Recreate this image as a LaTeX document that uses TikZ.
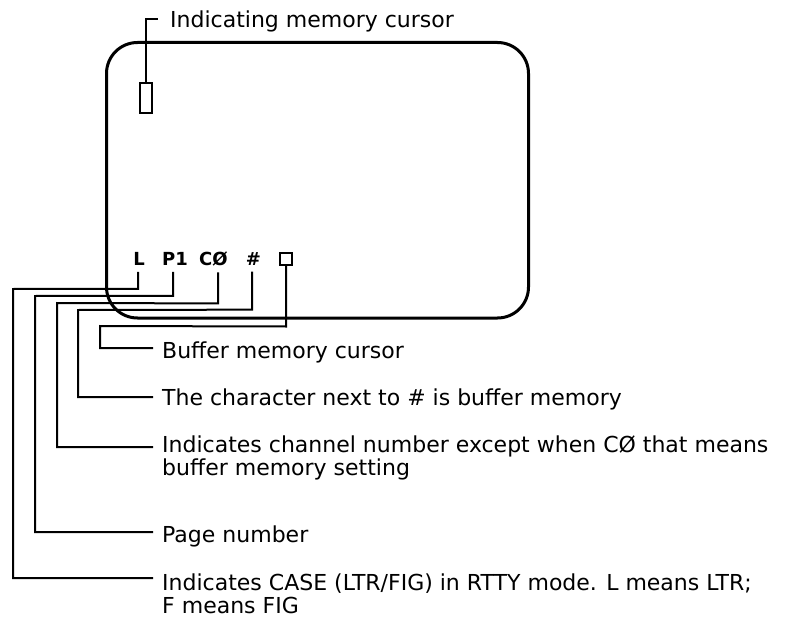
\documentclass[tikz,border=0pt]{standalone}
\usepackage{fontspec}
\setmainfont{DejaVu Sans}
\begin{document}
\begin{tikzpicture}[x=1pt,y=-1pt,
  lbl/.style={anchor=base west, inner sep=0pt, font=\fontsize{22}{23}\selectfont, align=left},
  disp/.style={inner sep=0pt, font=\fontsize{18}{18}\selectfont\bfseries},
  leader/.style={line width=2pt},
  frame/.style={line width=3pt, rounded corners=31pt},
]
\useasboundingbox (0,0) rectangle (804,618);
% display frame
\draw[frame] (106.5,42.5) rectangle (528.5,318);
% memory cursor
\node[draw, line width=2pt, minimum width=12pt, minimum height=30pt, inner sep=0pt] (mc) at (145.5,98) {};
\node[lbl] (tI) at (170,28) {Indicating memory cursor};
\coordinate (cI) at (158,19);
\draw[leader] (mc.north) |- (cI);
% display characters
\node[disp] (dL) at (139,259) {L};
\node[disp] (dP) at (175,259) {P1};
\node[disp] (dC) at (213.5,259) {CØ};
\node[disp] (dH) at (253.5,259) {\#};
\node[draw, line width=2pt, minimum width=12pt, minimum height=12pt, inner sep=0pt] (dB) at (286,258.5) {};
% labels
\node[lbl] (tB) at (162,358) {Buffer memory cursor};
\node[lbl] (tH) at (162,405) {The character next to \# is buffer memory};
\node[lbl] (tC) at (162,475) {Indicates channel number except when CØ that means\\buffer memory setting};
\node[lbl] (tP) at (162,542) {Page number};
\node[lbl] (tL) at (162,613) {Indicates CASE (LTR/FIG) in RTTY mode. L means LTR;\\F means FIG};
% leader ends
\coordinate (eB) at (153,348);
\coordinate (eH) at (153,397);
\coordinate (eC) at (153,447);
\coordinate (eP) at (153,532);
\coordinate (eL) at (153,578);
% leaders
\draw[leader] (dB.south) -- ++(0,61) -- (100,326) |- (eB);
\draw[leader] ([xshift=-1.5pt,yshift=-6pt]dH.south) -- ++(0,38) -- (78,310) |- (eH);
\draw[leader] ([xshift=4.5pt,yshift=-6pt]dC.south) -- ++(0,31) -- (57,303) |- (eC);
\draw[leader] ([xshift=-2pt,yshift=-6pt]dP.south) -- ++(0,24) -- (35,296) |- (eP);
\draw[leader] ([xshift=-1pt,yshift=-6pt]dL.south) -- ++(0,17) -- (13,289) |- (eL);
\end{tikzpicture}
\end{document}
